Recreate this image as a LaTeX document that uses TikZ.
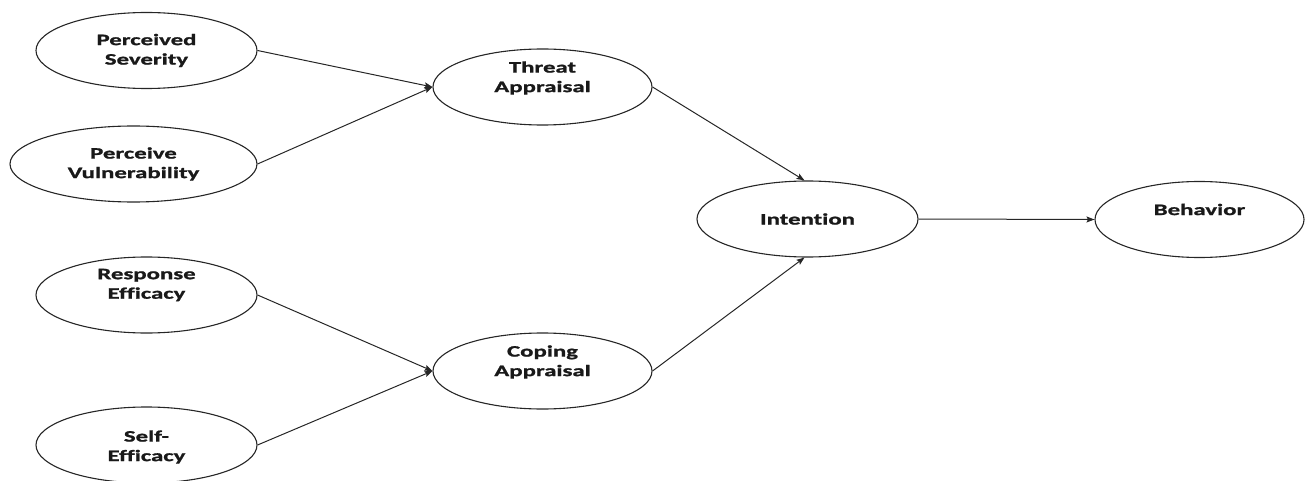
\documentclass[tikz,border=0pt]{standalone}
\usepackage{fontspec}
\newfontfamily\lblfont[FakeStretch=1.55,FakeBold=1.2,Ligatures=NoCommon]{Carlito}
\usetikzlibrary{shapes.geometric,arrows.meta}
\begin{document}
\begin{tikzpicture}[x=1pt,y=-1pt,
  ell/.style={draw=black!85,line width=1.1pt,ellipse,inner sep=0pt,minimum width=221pt,minimum height=76pt},
  txt/.style={align=center,inner sep=0pt,text=black!90,font=\lblfont\bfseries\fontsize{16}{19.5}\selectfont},
  conn/.style={draw=black!85,line width=1pt,-{Stealth[length=8pt,width=6pt,inset=1.5pt]}}]
\useasboundingbox (0,0) rectangle (1306,481);
% ellipses
\node[ell] (ps) at (146.5,50.5) {};
\node[ell,minimum width=247pt] (pv) at (133.5,164) {};
\node[ell] (re) at (146.5,295) {};
\node[ell] (se) at (146.5,445) {};
\node[ell,minimum width=219pt] (ta) at (542.5,87) {};
\node[ell,minimum width=219pt] (ca) at (542.5,371) {};
\node[ell] (in) at (807.5,219) {};
\node[ell,minimum width=209pt] (be) at (1199.5,219.5) {};
% texts
\node[txt] (tps) at (ps.center) {Perceived\\Severity};
\node[txt] (tpv) at (pv.center) {Perceive\\Vulnerability};
\node[txt] (tre) at ([yshift=10pt]re.center) {Response\\Efficacy};
\node[txt] (tse) at ([yshift=-2pt]se.center) {Self-\\Efficacy};
\node[txt] (tta) at ([yshift=9pt]ta.center) {Threat\\Appraisal};
\node[txt] (tca) at ([yshift=9pt]ca.center) {Coping\\Appraisal};
\node[txt] (tin) at (in.center) {Intention};
\node[txt] (tbe) at ([yshift=10pt]be.center) {Behavior};
% connectors
\draw[conn] (ps.east) -- (ta.west);
\draw[conn] (pv.east) -- (ta.west);
\draw[conn] (re.east) -- (ca.west);
\draw[conn] (se.east) -- (ca.west);
\draw[conn] (ta.east) -- ([xshift=-3pt]in.north);
\draw[conn] (ca.east) -- ([xshift=-3pt]in.south);
\draw[conn] (in.east) -- (be.west);
\end{tikzpicture}
\end{document}
